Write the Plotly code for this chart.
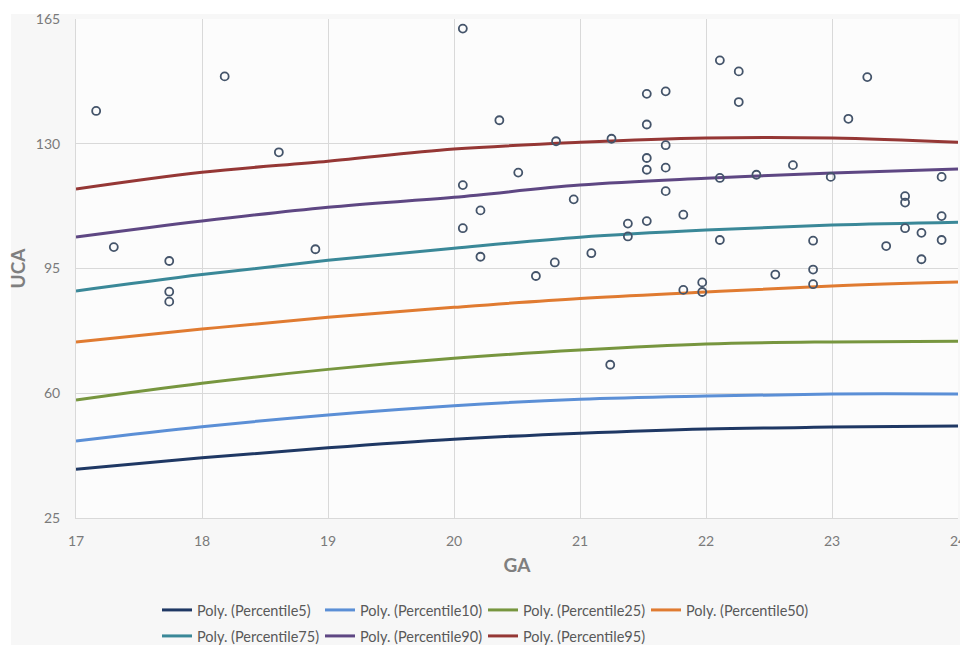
import plotly.graph_objects as go

# ---- data ----
ga_points = [17.16, 18.18, 18.61, 17.30, 17.74, 17.74, 17.74, 18.90,
             20.07, 20.07, 20.07, 20.21, 20.21, 20.36, 20.51, 20.65,
             20.81, 20.80, 20.95, 21.09, 21.25, 21.24, 21.38, 21.38,
             21.53, 21.53, 21.53, 21.53, 21.53, 21.68, 21.68, 21.68,
             21.68, 21.82, 21.82, 21.97, 21.97, 22.11, 22.11, 22.11,
             22.26, 22.26, 22.40, 22.55, 22.69, 22.85, 22.85, 22.85,
             22.99, 23.13, 23.28, 23.43, 23.58, 23.58, 23.58, 23.71,
             23.71, 23.87, 23.87, 23.87]
uca_points = [139.2, 148.9, 127.6, 101.0, 97.1, 88.5, 85.7, 100.4,
              162.3, 118.4, 106.3, 111.3, 98.3, 136.6, 121.9, 92.9,
              130.7, 96.7, 114.4, 99.3, 131.4, 68.0, 107.6, 104.0,
              144.0, 135.4, 126.0, 122.7, 108.3, 144.7, 129.6, 123.3,
              116.7, 110.1, 89.0, 91.1, 88.4, 153.4, 120.4, 103.0,
              150.3, 141.7, 121.3, 93.3, 124.0, 102.8, 94.7, 90.6,
              120.7, 137.0, 148.7, 101.3, 115.3, 113.5, 106.3, 105.0,
              97.6, 120.7, 109.7, 103.0]

ga_curve = [17, 18, 19, 20, 21, 22, 23, 24]
p5 = [38.7, 41.9, 44.7, 47.1, 48.8, 50.0, 50.5, 50.8]
p10 = [46.6, 50.6, 53.9, 56.5, 58.3, 59.2, 59.8, 59.8]
p25 = [58.1, 62.8, 66.7, 69.8, 72.1, 73.8, 74.4, 74.6]
p50 = [74.4, 78.0, 81.3, 84.1, 86.6, 88.4, 90.1, 91.2]
p75 = [88.7, 93.3, 97.3, 100.7, 103.8, 105.8, 107.2, 108.0]
p90 = [103.8, 108.3, 112.2, 115.0, 118.4, 120.3, 121.8, 122.9]
p95 = [117.3, 122.0, 125.1, 128.5, 130.4, 131.6, 131.6, 130.4]

series_names = ["Poly. (Percentile5)", "Poly. (Percentile10)", "Poly. (Percentile25)",
                "Poly. (Percentile50)", "Poly. (Percentile75)", "Poly. (Percentile90)",
                "Poly. (Percentile95)"]
series_values = [p5, p10, p25, p50, p75, p90, p95]
series_colors = ["#1F3864", "#5B8FD6", "#77963F", "#E07B31", "#3A8898", "#5E4783", "#953735"]

y_ticks = [25, 60, 95, 130, 165]
x_ticks = [17, 18, 19, 20, 21, 22, 23, 24]

fig = go.Figure()

for i, (name, vals, col) in enumerate(zip(series_names, series_values, series_colors)):
    fig.add_trace(go.Scatter(
        x=ga_curve, y=vals, mode="lines", name=name,
        line=dict(color=col, width=3, shape="spline", smoothing=1.0),
        legend="legend" if i < 4 else "legend2",
    ))

fig.add_trace(go.Scatter(
    x=ga_points, y=uca_points, mode="markers", showlegend=False,
    marker=dict(symbol="circle-open", size=8, color="#44546A", line=dict(width=1.8)),
))

axis_font = dict(family="Lato, Open Sans, sans-serif", size=14, color="#7A7A7A")
title_font = dict(family="Lato, Open Sans, sans-serif", size=19, color="#7F7F7F")
legend_font = dict(family="Lato, Open Sans, sans-serif", size=14.5, color="#595959")

PL, PW, PT, PH = 76, 882, 19, 499

fig.update_layout(
    width=960, height=645,
    margin=dict(l=PL, r=960 - PL - PW, t=PT, b=645 - PT - PH, autoexpand=False),
    paper_bgcolor="#F7F7F7",
    plot_bgcolor="#FCFCFC",
    font=dict(family="Lato, Open Sans, sans-serif", color="#595959"),
    xaxis=dict(range=[17, 24], tickvals=x_ticks, ticktext=[str(v) for v in x_ticks],
               showgrid=True, gridcolor="#D9D9D9", gridwidth=1, zeroline=False,
               showline=True, linecolor="#D9D9D9", linewidth=1, automargin=False,
               tickfont=axis_font, ticklabelstandoff=10, ticklabeloverflow="allow",
               title=dict(text="<b>GA</b>", font=title_font, standoff=10)),
    yaxis=dict(range=[25, 165], tickvals=y_ticks, ticktext=[str(v) for v in y_ticks],
               showgrid=True, gridcolor="#D9D9D9", gridwidth=1, zeroline=False,
               showline=True, linecolor="#D9D9D9", linewidth=1, automargin=False,
               tickfont=axis_font, ticklabelstandoff=12, ticklabeloverflow="allow",
               title=dict(text="<b>UCA</b>", font=title_font, standoff=5)),
    legend=dict(orientation="h", x=(157 - PL) / PW, xanchor="left",
                y=(PT + PH - 610) / PH, yanchor="middle",
                font=legend_font,
                bgcolor="rgba(0,0,0,0)", entrywidth=118, entrywidthmode="pixels",
                itemwidth=30, tracegroupgap=0),
    legend2=dict(orientation="h", x=(157 - PL) / PW, xanchor="left",
                 y=(PT + PH - 636) / PH, yanchor="middle",
                 font=legend_font,
                 bgcolor="rgba(0,0,0,0)", entrywidth=118, entrywidthmode="pixels",
                 itemwidth=30, tracegroupgap=0),
    shapes=[
        dict(type="rect", xref="paper", yref="paper",
             x0=-PL / PW, x1=(11 - PL) / PW, y0=(PT + PH - 645) / PH, y1=(PT + PH) / PH,
             fillcolor="white", line=dict(width=0), layer="below"),
        dict(type="rect", xref="paper", yref="paper",
             x0=-PL / PW, x1=1.01, y0=(PT + PH - 14) / PH, y1=(PT + PH) / PH,
             fillcolor="white", line=dict(width=0), layer="below"),
    ],
)

fig.write_html("out.html", config={"displayModeBar": False},
               post_script="document.body.style.margin='0px';")
